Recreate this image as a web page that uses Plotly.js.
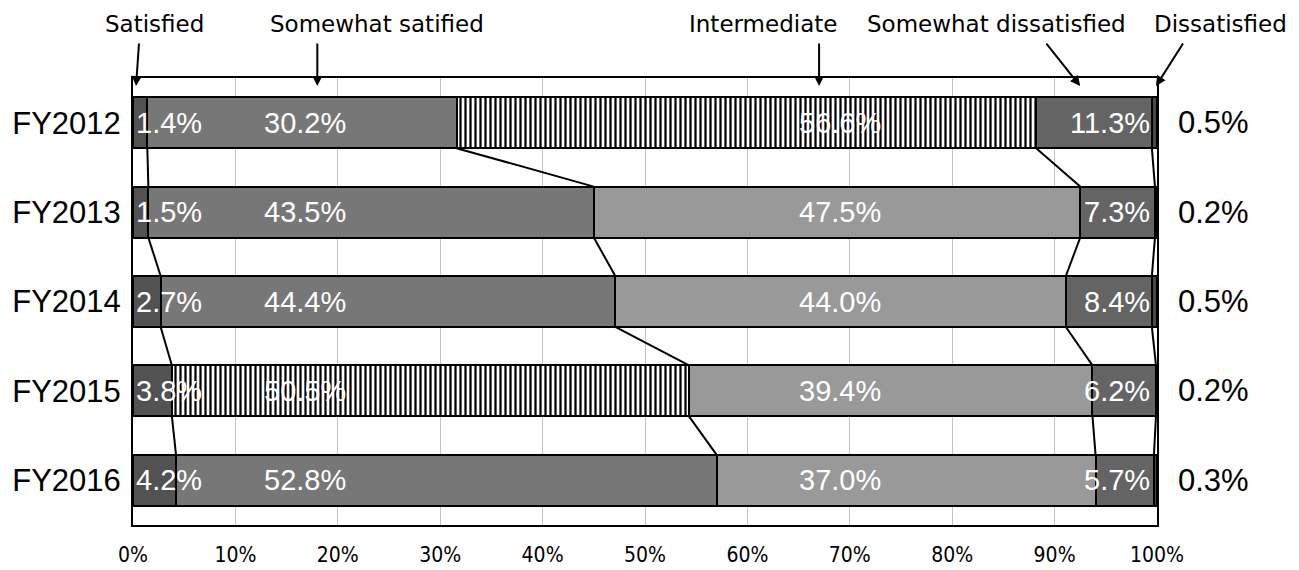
<!DOCTYPE html>
<html>
<head>
<meta charset="utf-8">
<script src="https://cdn.plot.ly/plotly-3.0.1.min.js"></script>
<style>html,body{margin:0;padding:0;background:#fff;}</style>
</head>
<body>
<div id="chart" style="width:1299px;height:570px"></div>
<script>
const years = ['FY2012', 'FY2013', 'FY2014', 'FY2015', 'FY2016'];
const categories = ['Satisfied', 'Somewhat satified', 'Intermediate', 'Somewhat dissatisfied', 'Dissatisfied'];
const satisfied = [1.4, 1.5, 2.7, 3.8, 4.2];
const somewhatSatisfied = [30.2, 43.5, 44.4, 50.5, 52.8];
const intermediate = [56.6, 47.5, 44.0, 39.4, 37.0];
const somewhatDissatisfied = [11.3, 7.3, 8.4, 6.2, 5.7];
const dissatisfied = [0.5, 0.2, 0.5, 0.2, 0.3];
const xTickVals = [0, 10, 20, 30, 40, 50, 60, 70, 80, 90, 100];
const xTickText = ['0%', '10%', '20%', '30%', '40%', '50%', '60%', '70%', '80%', '90%', '100%'];

const series = [satisfied, somewhatSatisfied, intermediate, somewhatDissatisfied, dissatisfied];
const colors = ['#525252', '#777777', '#999999', '#646464', '#4a4a4a'];
// striped bars: intermediate FY2012, somewhat satisfied FY2015
const stripes = [
  ['', '', '', '', ''],
  ['', '', '', '|', ''],
  ['|', '', '', '', ''],
  ['', '', '', '', ''],
  ['', '', '', '', '']
];
const yIdx = years.map((_, i) => i);
const barGap = 0.43;
const half = (1 - barGap) / 2;

const traces = series.map((vals, k) => ({
  type: 'bar',
  orientation: 'h',
  name: categories[k],
  x: vals,
  y: yIdx,
  marker: {
    color: colors[k],
    line: {color: '#000', width: 2},
    pattern: {shape: stripes[k], bgcolor: '#ffffff', fgcolor: '#000000', size: 5, solidity: 0.45, fillmode: 'replace'}
  },
  hoverinfo: 'skip',
  showlegend: false
}));

// connector lines between cumulative boundaries
const cum = [];
let run = years.map(() => 0);
for (let k = 0; k < 4; k++) {
  run = run.map((v, i) => v + series[k][i]);
  cum.push(run.slice());
}
cum.forEach(c => {
  const xs = [], ys = [];
  for (let i = 0; i < years.length - 1; i++) {
    xs.push(c[i], c[i + 1], null);
    ys.push(i + half, i + 1 - half, null);
  }
  traces.push({type: 'scatter', mode: 'lines', x: xs, y: ys, line: {color: '#000', width: 2},
    hoverinfo: 'skip', showlegend: false, cliponaxis: false});
});

const fmt = v => v.toFixed(1) + '%';
const lblFont = {family: 'Liberation Sans, Arial, sans-serif', size: 29, color: '#ffffff'};
const sideFont = {family: 'Liberation Sans, Arial, sans-serif', size: 31, color: '#000000'};
const annotations = [];
years.forEach((yr, i) => {
  annotations.push({x: 0.1, y: i, xref: 'x', yref: 'y', text: fmt(satisfied[i]), showarrow: false, xanchor: 'left', font: lblFont});
  annotations.push({x: 16.8, y: i, xref: 'x', yref: 'y', text: fmt(somewhatSatisfied[i]), showarrow: false, xanchor: 'center', font: lblFont});
  annotations.push({x: 69, y: i, xref: 'x', yref: 'y', text: fmt(intermediate[i]), showarrow: false, xanchor: 'center', font: lblFont});
  annotations.push({x: 99.5, y: i, xref: 'x', yref: 'y', text: fmt(somewhatDissatisfied[i]), showarrow: false, xanchor: 'right', font: lblFont});
  annotations.push({x: 1.055, y: i, xref: 'paper', yref: 'y', text: fmt(dissatisfied[i]), showarrow: false, xanchor: 'center', font: sideFont});
});

// top category labels with arrows
const topFont = {family: 'DejaVu Sans, sans-serif', size: 23, color: '#000'};
const topLabels = [
  {text: categories[0], tx: 155, tip: 0.3, ax: 3},
  {text: categories[1], tx: 377, tip: 18, ax: 0},
  {text: categories[2], tx: 763, tip: 67, ax: 0},
  {text: categories[3], tx: 997, tip: 92.5, ax: -35},
  {text: categories[4], tx: 1221, tip: 99.9, ax: 28}
];
topLabels.forEach(t => {
  annotations.push({x: (t.tx - 133.5) / 1024, y: 1, xref: 'paper', yref: 'paper', yshift: 54,
    text: t.text, showarrow: false, xanchor: 'center', yanchor: 'middle', font: topFont});
  annotations.push({x: t.tip, y: 0.982, xref: 'x', yref: 'paper', text: '', showarrow: true,
    arrowhead: 2, arrowsize: 1, arrowwidth: 2, arrowcolor: '#000', ax: t.ax, ay: -44, standoff: 0});
});

const layout = {
  width: 1299, height: 570,
  margin: {l: 133, r: 142, t: 78, b: 45},
  paper_bgcolor: '#fff', plot_bgcolor: '#fff',
  barmode: 'stack',
  bargap: barGap,
  showlegend: false,
  xaxis: {
    range: [0, 100], tickvals: xTickVals, ticktext: xTickText,
    showgrid: true, gridcolor: '#c4c4c4', gridwidth: 1,
    showline: true, linecolor: '#000', linewidth: 2, mirror: true,
    zeroline: false, ticks: '', ticklabelstandoff: 10,
    tickfont: {family: 'Liberation Sans Narrow, DejaVu Sans Condensed, sans-serif', size: 21, color: '#000'},
    fixedrange: true
  },
  yaxis: {
    range: [4.5, -0.5], tickvals: yIdx, ticktext: years,
    showgrid: false, showline: true, linecolor: '#000', linewidth: 2, mirror: true,
    zeroline: false, ticks: '', ticklabelstandoff: 4,
    tickfont: {family: 'Liberation Sans, Arial, sans-serif', size: 31, color: '#000'},
    fixedrange: true
  },
  annotations: annotations
};

Plotly.newPlot('chart', traces, layout, {displayModeBar: false, staticPlot: true});
</script>
</body>
</html>
